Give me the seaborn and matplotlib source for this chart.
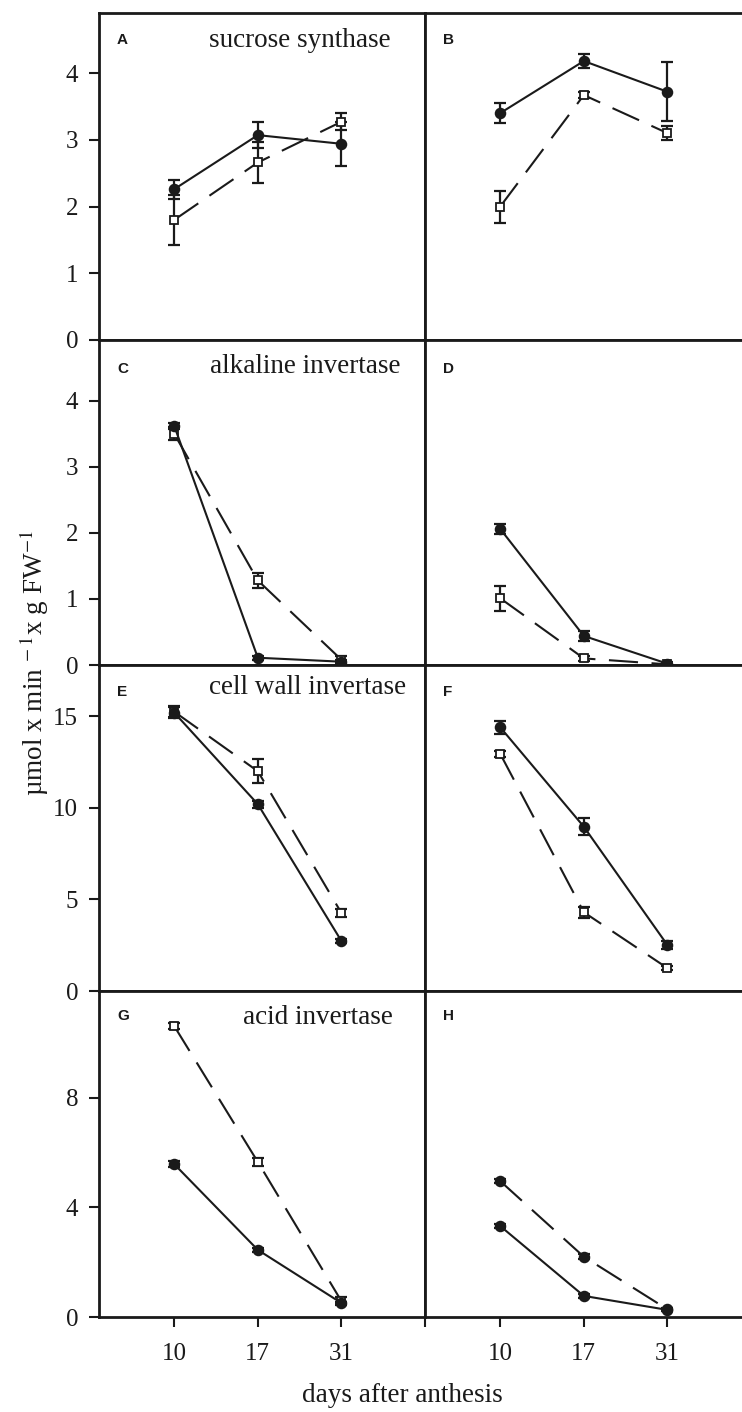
import numpy as np
import pandas as pd
import matplotlib
matplotlib.use("Agg")
import matplotlib.pyplot as plt
import seaborn as sns

sns.set_theme(style="ticks")
plt.rcParams['font.family'] = ['Liberation Serif', 'DejaVu Serif']
plt.rcParams['mathtext.fontset'] = 'stix'

# ---- data -------------------------------------------------------------
days = ["10", "17", "31"]
enzymes = ["sucrose synthase", "alkaline invertase",
           "cell wall invertase", "acid invertase"]
letters = ["A", "B", "C", "D", "E", "F", "G", "H"]

# solid line / dashed line series (mean and error) for each panel
A_solid = [2.26, 3.07, 2.94];   A_solid_err = [0.14, 0.20, 0.33]
A_dashed = [1.80, 2.66, 3.27];  A_dashed_err = [0.37, 0.31, 0.13]
B_solid = [3.40, 4.18, 3.72];   B_solid_err = [0.15, 0.10, 0.44]
B_dashed = [2.00, 3.67, 3.10];  B_dashed_err = [0.24, 0.05, 0.10]

C_solid = [3.62, 0.11, 0.05];   C_solid_err = [0.05, 0.03, 0.03]
C_dashed = [3.50, 1.28, 0.08];  C_dashed_err = [0.10, 0.12, 0.05]
D_solid = [2.06, 0.44, 0.02];   D_solid_err = [0.07, 0.07, 0.02]
D_dashed = [1.01, 0.10, 0.01];  D_dashed_err = [0.19, 0.04, 0.01]

E_solid = [15.20, 10.20, 2.73]; E_solid_err = [0.30, 0.20, 0.10]
E_dashed = [15.25, 12.00, 4.26]; E_dashed_err = [0.30, 0.65, 0.20]
F_solid = [14.40, 8.97, 2.51];  F_solid_err = [0.35, 0.45, 0.20]
F_dashed = [12.95, 4.30, 1.25]; F_dashed_err = [0.15, 0.30, 0.12]

G_solid = [5.58, 2.45, 0.51];   G_solid_err = [0.10, 0.08, 0.05]
G_dashed = [10.62, 5.66, 0.58]; G_dashed_err = [0.10, 0.15, 0.15]
H_solid = [3.32, 0.77, 0.26];   H_solid_err = [0.08, 0.08, 0.05]
H_dashed = [4.96, 2.20, 0.28];  H_dashed_err = [0.08, 0.10, 0.05]

row_ylims = [4.9, 4.92, 17.8, 11.9]
row_yticks = [[0, 1, 2, 3, 4], [0, 1, 2, 3, 4], [0, 5, 10, 15], [0, 4, 8]]

panels = [
    (A_solid, A_solid_err, A_dashed, A_dashed_err, False),
    (B_solid, B_solid_err, B_dashed, B_dashed_err, False),
    (C_solid, C_solid_err, C_dashed, C_dashed_err, False),
    (D_solid, D_solid_err, D_dashed, D_dashed_err, False),
    (E_solid, E_solid_err, E_dashed, E_dashed_err, False),
    (F_solid, F_solid_err, F_dashed, F_dashed_err, False),
    (G_solid, G_solid_err, G_dashed, G_dashed_err, False),
    (H_solid, H_solid_err, H_dashed, H_dashed_err, True),   # dashed drawn with filled dots
]

# ---- layout -------------------------------------------------------------
W, H = 742, 1412
fig = plt.figure(figsize=(W / 100, H / 100), dpi=100)
col_left = [99, 425]
ax_w = 326
row_top = [13, 340, 665, 991]
row_bot = [340, 665, 991, 1317]
title_x = [0.617, 0.632, 0.641, 0.672]
title_y = [0.917, 0.917, 0.93, 0.92]
letter_y = [0.917, 0.91, 0.917, 0.923]

xpos = np.arange(1, len(days) + 1)


def draw_series(ax, y, err, dashed, filled):
    df = pd.DataFrame({"x": xpos, "y": y})
    ls = (0, (14, 6.5)) if dashed else "-"
    ax.errorbar(xpos, y, yerr=err, fmt="none", ecolor="k",
                elinewidth=1.6, capsize=4.5, capthick=1.6, zorder=2)
    sns.lineplot(data=df, x="x", y="y", ax=ax, color="k", linewidth=1.5,
                 linestyle=ls, marker="o" if filled else "s",
                 markersize=7 if filled else 5.5,
                 markerfacecolor="k" if filled else "white",
                 markeredgecolor="k", markeredgewidth=1.3,
                 errorbar=None, zorder=3)


for i, (sol, sol_e, das, das_e, das_filled) in enumerate(panels):
    r, c = divmod(i, 2)
    x0 = col_left[c] / W
    y0 = 1 - row_bot[r] / H
    h = (row_bot[r] - row_top[r]) / H
    ax = fig.add_axes([x0, y0, ax_w / W, h])
    ax.set_facecolor("white")
    draw_series(ax, das, das_e, True, das_filled)
    draw_series(ax, sol, sol_e, False, True)
    ax.set(xlabel="", ylabel="")
    ax.set_xlim(0.1, 4.0)
    ax.set_ylim(0, row_ylims[r])
    for s in ax.spines.values():
        s.set_visible(True)
        s.set_linewidth(2)
        s.set_color("k")
    ax.set_yticks(row_yticks[r])
    if c == 0:
        ax.set_yticklabels([str(t) for t in row_yticks[r]])
        ax.tick_params(axis="y", direction="out", length=7, width=1.5,
                       pad=8, labelsize=18, left=True, colors="k")
        ax.text(title_x[r], title_y[r], enzymes[r], transform=ax.transAxes,
                fontsize=19.5, ha="center", va="center", color="k")
    else:
        ax.tick_params(axis="y", left=False, labelleft=False)
    if r == 3:
        ax.set_xticks([1, 2, 3, 4])
        ax.set_xticklabels(days + [""])
        ax.tick_params(axis="x", direction="out", length=7, width=1.5,
                       pad=12, labelsize=18, bottom=True, colors="k")
    else:
        ax.set_xticks([])
    ax.text(0.055, letter_y[r], letters[i], transform=ax.transAxes,
            fontfamily="Liberation Sans", fontweight="bold", fontsize=11,
            ha="left", va="center", color="k")

fig.text(402 / W, 1 - 1395 / H, "days after anthesis", fontsize=19.5,
         ha="center", va="center", color="k")
fig.text(34 / W, 1 - 663 / H, r"µmol x min$^{\ -1}$x g FW$^{-1}$",
         rotation=90, fontsize=19.5, ha="center", va="center", color="k",
         bbox=dict(facecolor="white", edgecolor="none", pad=1), zorder=10)

fig.savefig("out.png", dpi=100, facecolor="white")
